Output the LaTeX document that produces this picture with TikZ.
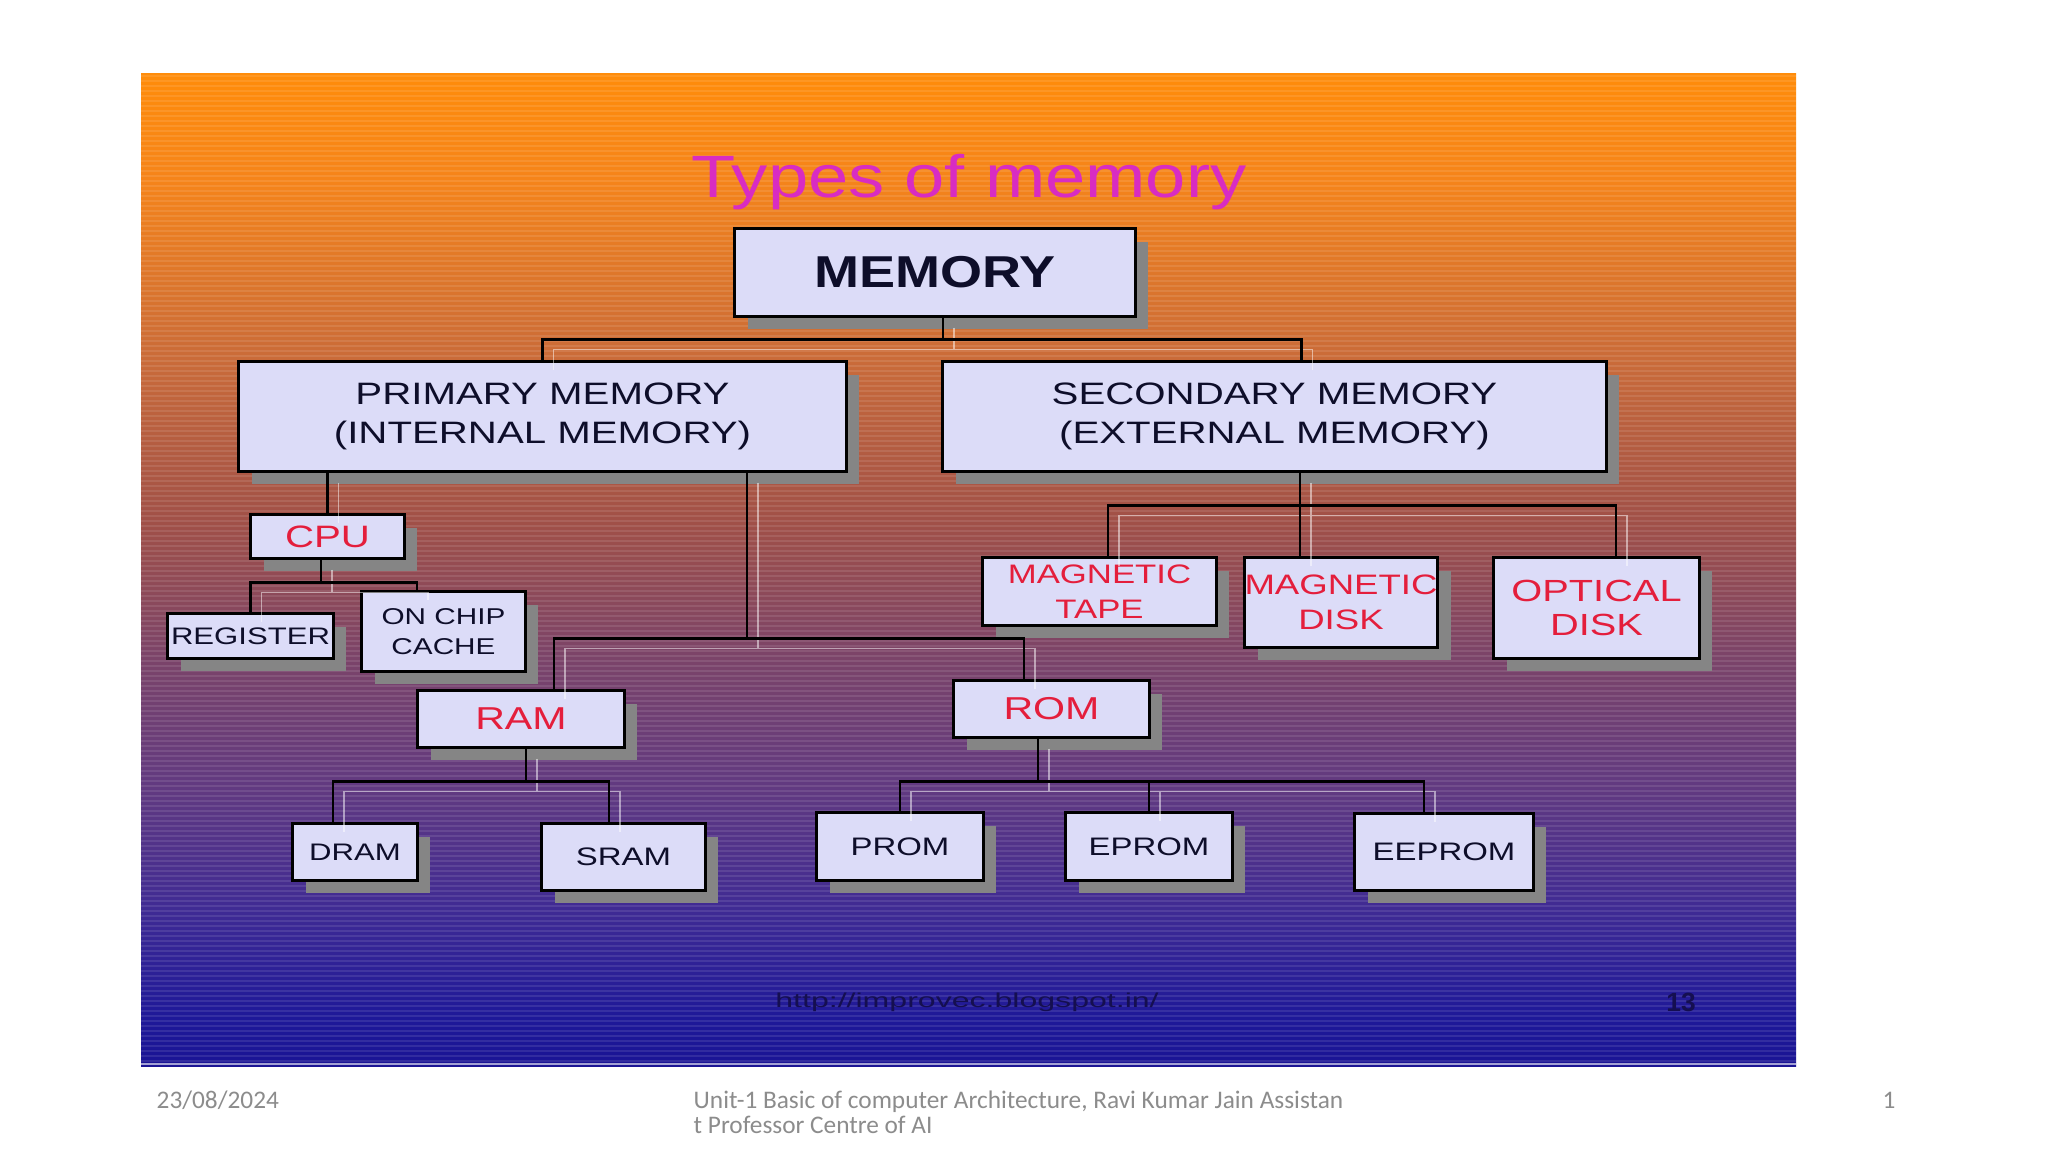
\documentclass[tikz,border=0pt]{standalone}
\usepackage{fontspec}
\usepackage{tikz}
\usetikzlibrary{shadows,calc}
\setmainfont{Liberation Sans}
\newfontfamily\chartfont[FakeStretch=1.3]{Liberation Sans}
\newfontfamily\headfont[FakeStretch=1.21]{Liberation Sans}
\newfontfamily\urlfont[FakeStretch=1.6]{Liberation Sans}
\newfontfamily\footfont{Carlito}
\newcommand\chsz[2]{\chartfont\fontsize{#1}{#2}\selectfont}
\definecolor{mmfill}{HTML}{DCDCF8}
\definecolor{mmshadow}{HTML}{858585}
\definecolor{mmink}{HTML}{0E0E2A}
\definecolor{mmred}{HTML}{E41E3C}
\definecolor{mmtitle}{HTML}{D82CC2}
\definecolor{mmurl}{HTML}{150F50}
\definecolor{mmfoot}{HTML}{8C8C8C}
\definecolor{bgA}{HTML}{FF8C0A}
\definecolor{bgB}{HTML}{F5841A}
\definecolor{bgC}{HTML}{C86A3A}
\definecolor{bgD}{HTML}{A05048}
\definecolor{bgE}{HTML}{7C4468}
\definecolor{bgF}{HTML}{623A80}
\definecolor{bgG}{HTML}{3E2A94}
\definecolor{bgH}{HTML}{1E1898}
\definecolor{bgI}{HTML}{1A1494}
\pgfdeclareverticalshading{slidebg}{100bp}{color(0bp)=(bgI); color(25bp)=(bgI); color(27.4bp)=(bgH); color(32.7bp)=(bgG); color(39.2bp)=(bgF); color(45.8bp)=(bgE); color(52.4bp)=(bgD); color(60.3bp)=(bgC); color(69.7bp)=(bgB); color(75bp)=(bgA); color(100bp)=(bgA)}

\begin{document}
\begin{tikzpicture}[x=0.01cm, y=-0.01cm,
  box/.style={draw=black, line width=0.85pt, fill=mmfill, align=center, inner sep=0pt,
    drop shadow={shadow xshift=0.13cm, shadow yshift=-0.13cm, fill=mmshadow, opacity=1}},
  inkbox/.style={box, text=mmink},
  hotbox/.style={box, text=mmred},
  wire/.style={draw=black, line width=0.7pt,
    preaction={draw=white, draw opacity=0.5, transform canvas={shift={(11,10)}}}},
  stripe/.style={draw=white, draw opacity=0.1, line width=0.34pt},
  foot/.style={font=\footfont\fontsize{7.2}{7.1}\selectfont, text=mmfoot, anchor=base west, inner sep=0pt}
]
\useasboundingbox (0,0) rectangle (2048,1152);
% ================= slide backdrop =================
\fill[white] (0,0) rectangle (2048,1152);
\shade[shading=slidebg] (141,74) rectangle (1796,1066);
\foreach \k in {0,...,197}
  \draw[stripe] (141,{76+5*\k}) -- (1796,{76+5*\k});
\draw[draw=bgI!40!white, line width=0.6pt] (141,1064) -- (1796,1064);
% ================= title and root =================
\node[font=\headfont\fontsize{17}{20}\selectfont, text=mmtitle, anchor=base] (title) at (969,198) {Types of memory};
\node[inkbox, minimum width=4cm, minimum height=0.87cm, font=\headfont\bfseries\fontsize{12.7}{14}\selectfont] (mem) at (935,272.5) {MEMORY};
% ================= second level =================
\node[inkbox, minimum width=6.07cm, minimum height=1.09cm, font=\chsz{8.8}{11}] (prim) at (542.5,416.5) {PRIMARY MEMORY\\(INTERNAL MEMORY)};
\node[inkbox, minimum width=6.63cm, minimum height=1.09cm, font=\chsz{8.8}{11}] (sec) at (1274.5,416.5) {SECONDARY MEMORY\\(EXTERNAL MEMORY)};
% ================= primary side =================
\node[hotbox, minimum width=1.53cm, minimum height=0.43cm, font=\chsz{8.8}{10}] (cpu) at (327.5,536.5) {CPU};
\node[inkbox, minimum width=1.65cm, minimum height=0.44cm, font=\chsz{6.8}{8}] (reg) at (250.5,636) {REGISTER};
\node[inkbox, minimum width=1.63cm, minimum height=0.79cm, font=\chsz{6.5}{8.5}] (cache) at (443.5,631.5) {ON CHIP\\CACHE};
\node[hotbox, minimum width=2.06cm, minimum height=0.56cm, font=\chsz{9}{10}] (ram) at (521,719) {RAM};
\node[hotbox, minimum width=1.95cm, minimum height=0.56cm, font=\chsz{9}{10}] (rom) at (1051.5,709) {ROM};
\node[inkbox, minimum width=1.24cm, minimum height=0.56cm, font=\chsz{6.8}{8}] (dram) at (355,852) {DRAM};
\node[inkbox, minimum width=1.63cm, minimum height=0.66cm, font=\chsz{7.2}{8}] (sram) at (623.5,857) {SRAM};
\node[inkbox, minimum width=1.66cm, minimum height=0.67cm, font=\chsz{7.2}{8}] (prom) at (900,846.5) {PROM};
\node[inkbox, minimum width=1.66cm, minimum height=0.67cm, font=\chsz{7.2}{8}] (eprom) at (1149,846.5) {EPROM};
\node[inkbox, minimum width=1.78cm, minimum height=0.76cm, font=\chsz{7.2}{8}] (eeprom) at (1444,852) {EEPROM};
% ================= secondary side =================
\node[hotbox, minimum width=2.33cm, minimum height=0.67cm, font=\chsz{7.6}{10}] (tape) at (1099.5,591.5) {MAGNETIC\\TAPE};
\node[hotbox, minimum width=1.92cm, minimum height=0.89cm, font=\chsz{8}{10}] (mdisk) at (1341,602.5) {MAGNETIC\\DISK};
\node[hotbox, minimum width=2.05cm, minimum height=1.00cm, font=\chsz{8.7}{9.7}] (odisk) at (1596.5,608) {OPTICAL\\DISK};
% ================= connectors =================
\draw[wire] ([xshift=0.08cm]mem.south) -- ++(0,22) coordinate (memJ) -| (prim.north) (memJ) -| ([xshift=0.27cm]sec.north);
\draw[wire] (prim.south -| cpu.north) -- (cpu.north);
\draw[wire] ([xshift=2.045cm]prim.south) -- ++(0,166) coordinate (primJ) -| ([xshift=0.33cm]ram.north) (primJ) -| ([xshift=-0.275cm]rom.north);
\draw[wire] ([xshift=-0.065cm]cpu.south) -- ++(0,23) coordinate (cpuJ) -| (reg.north) (cpuJ) -| ([xshift=-0.265cm]cache.north);
\draw[wire] ([xshift=0.05cm]ram.south) -- ++(0,33) coordinate (ramJ) -| ([xshift=-0.22cm]dram.north) (ramJ) -| ([xshift=-0.145cm]sram.north);
\draw[wire] ([xshift=-0.135cm]rom.south) -- ++(0,43) coordinate (romJ) -| (prom.north) (romJ) -| (eprom.north) (romJ) -| ([xshift=-0.2cm]eeprom.north);
\draw[wire] ([xshift=0.255cm]sec.south) -- ++(0,33) coordinate (secJ) -| ([xshift=0.085cm]tape.north) (secJ) -| ([xshift=-0.41cm]mdisk.north) (secJ) -| ([xshift=0.195cm]odisk.north);
% ================= slide footers =================
\node[font=\urlfont\fontsize{5.7}{7}\selectfont, text=mmurl, anchor=base] (url) at (967,1007) {http://improvec.blogspot.in/};
\node[font=\bfseries\fontsize{7.5}{8}\selectfont, text=mmurl] (pno) at (1681,1002) {13};
\node[foot] (date) at (156,1108) {23/08/2024};
\node[foot] (footA) at (693,1108) {Unit-1 Basic of computer Architecture, Ravi Kumar Jain Assistan};
\node[foot] (footB) at (693,1133) {t Professor Centre of AI};
\node[foot] (slide) at (1882,1108) {1};
\end{tikzpicture}
\end{document}
